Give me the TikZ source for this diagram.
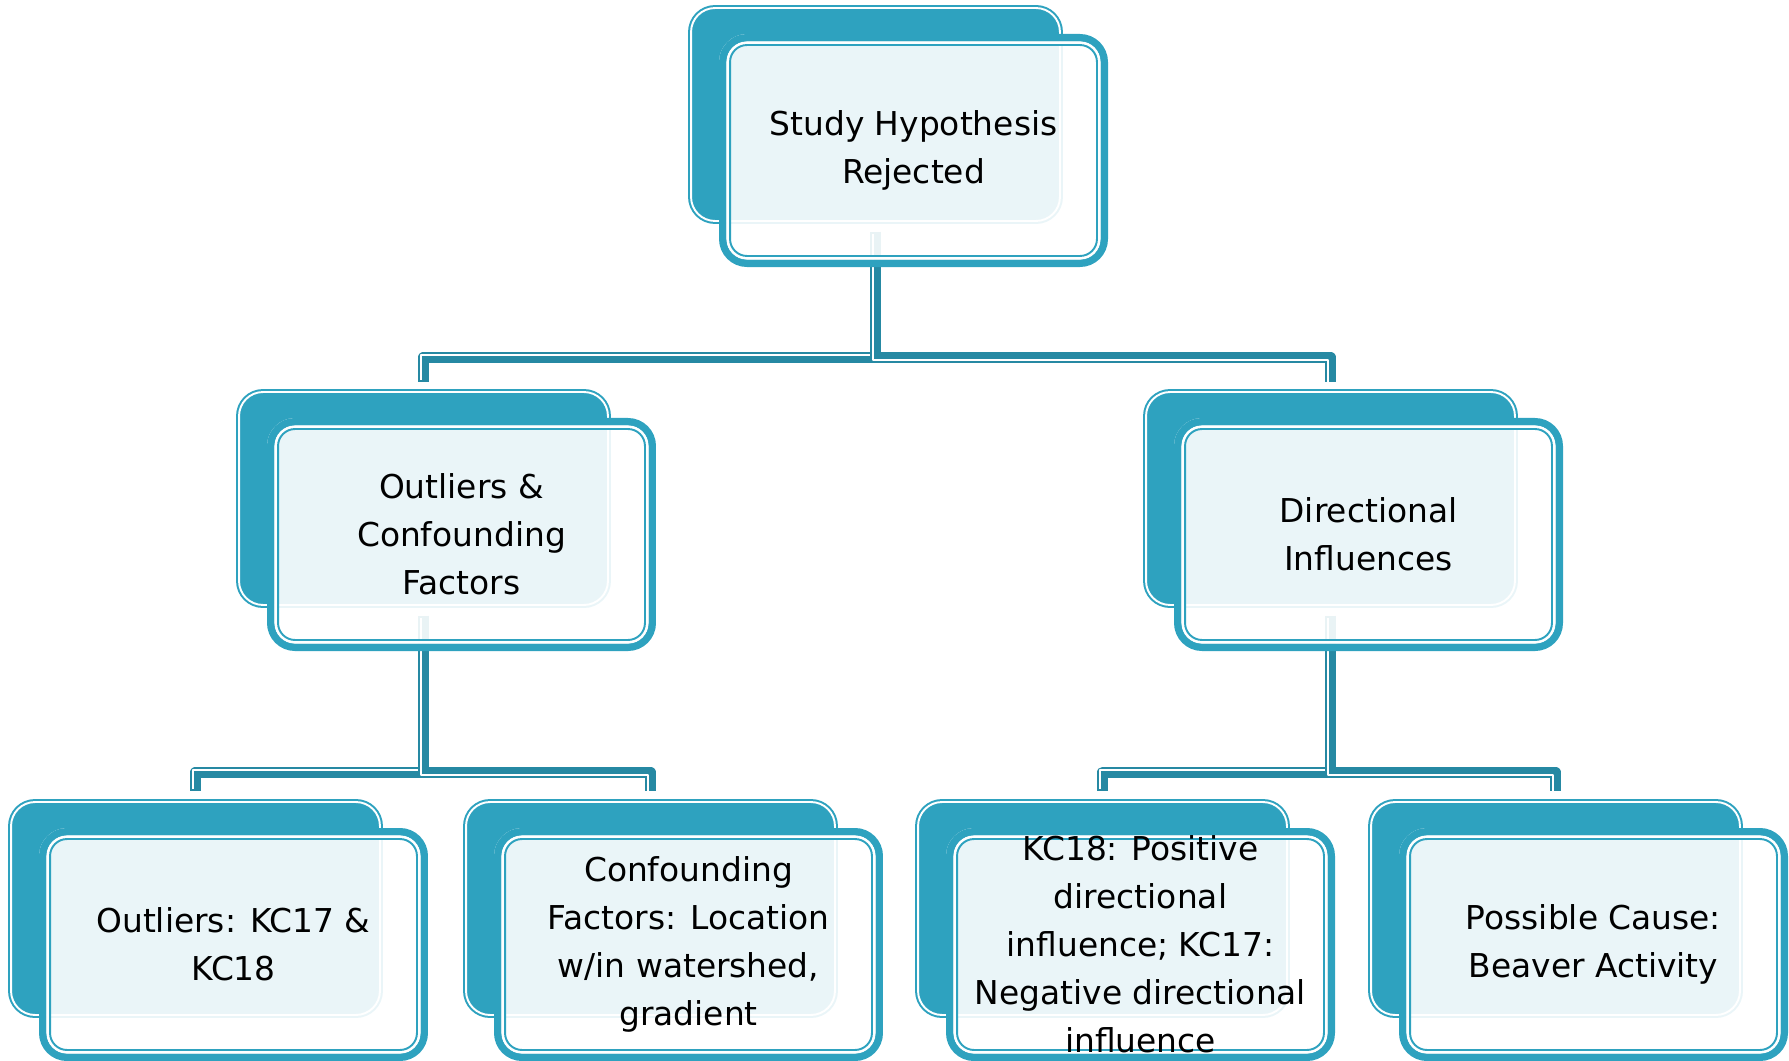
\documentclass[tikz,border=0pt]{standalone}
\usepackage{fontspec}
\setmainfont{DejaVu Sans}
\usetikzlibrary{backgrounds}
\definecolor{boxteal}{RGB}{46,162,191}
\definecolor{conncol}{RGB}{38,137,163}
\tikzset{
 backbox/.style={rectangle, rounded corners=0.54cm, fill=boxteal, minimum width=7.5cm, minimum height=4.38cm, inner sep=0pt, outer sep=0pt},
 frontbox/.style={rectangle, rounded corners=0.56cm, fill=white, fill opacity=0.9, minimum width=7.78cm, minimum height=4.66cm, inner sep=0pt, outer sep=0pt},
 boxtext/.style={align=center, font=\fontsize{18.7}{27.3}\selectfont, inner sep=0pt, text=black},
 backline/.style={draw=white, line width=1.1pt, rounded corners=0.48cm},
 frontthick/.style={draw=boxteal, line width=4.3pt, rounded corners=0.485cm},
 frontwhite/.style={draw=white, line width=1.5pt, rounded corners=0.385cm},
 frontthin/.style={draw=boxteal, line width=1.1pt, rounded corners=0.34cm},
 connbase/.style={draw=conncol, line width=6.5pt, line join=round},
 connL/.style={connbase, postaction={draw=white, line width=1.3pt, transform canvas={xshift=-0.05cm, yshift=0.05cm}}},
 connR/.style={connbase, postaction={draw=white, line width=1.3pt, transform canvas={xshift=-0.05cm, yshift=-0.05cm}}},
}
\newcommand\twobox[4]{%
  \node[backbox] (#1b) at ({#2+187.5},{#3+109.5}) {};
  \draw[backline] ([xshift=0.06cm,yshift=-0.06cm]#1b.north west) rectangle ([xshift=-0.06cm,yshift=0.06cm]#1b.south east);
  \node[frontbox] (#1f) at ({#2+225.5},{#3+145.5}) {};
  \draw[frontthick] ([xshift=0.075cm,yshift=-0.075cm]#1f.north west) rectangle ([xshift=-0.075cm,yshift=0.075cm]#1f.south east);
  \draw[frontwhite] ([xshift=0.175cm,yshift=-0.175cm]#1f.north west) rectangle ([xshift=-0.175cm,yshift=0.175cm]#1f.south east);
  \draw[frontthin] ([xshift=0.22cm,yshift=-0.22cm]#1f.north west) rectangle ([xshift=-0.22cm,yshift=0.22cm]#1f.south east);
  \node[boxtext] (#1) at (#1f.center) {#4};
}
\begin{document}
\begin{tikzpicture}[x=0.02cm, y=-0.02cm]
\useasboundingbox (0,0) rectangle (1789,1061);
\twobox{top}{688}{5}{Study Hypothesis\\Rejected}
\twobox{midL}{236}{389}{Outliers \&\\Confounding\\Factors}
\twobox{midR}{1143}{389}{Directional\\Influences}
\twobox{botA}{8}{799}{Outliers: KC17 \&\\KC18}
\twobox{botB}{463}{799}{Confounding\\Factors: Location\\w/in watershed,\\gradient}
\twobox{botC}{915}{799}{KC18: Positive\\directional\\influence; KC17:\\Negative directional\\influence}
\twobox{botD}{1368}{799}{Possible Cause:\\Beaver Activity}
\coordinate (bus1) at (0,357.5);
\coordinate (bus2) at (0,772.5);
\begin{pgfonlayer}{background}
 \draw[connL] ([yshift=-0.16cm]topb.south) -- (topb.south |- bus1) -- (midLb.north |- bus1) -- ([yshift=0.14cm]midLb.north);
 \draw[connR] ([yshift=-0.16cm]topb.south) -- (topb.south |- bus1) -- (midRb.north |- bus1) -- ([yshift=0.14cm]midRb.north);
 \draw[connL] ([yshift=-0.16cm]midLb.south) -- (midLb.south |- bus2) -- (botAb.north |- bus2) -- ([yshift=0.16cm]botAb.north);
 \draw[connR] ([yshift=-0.16cm]midLb.south) -- (midLb.south |- bus2) -- (botBb.north |- bus2) -- ([yshift=0.16cm]botBb.north);
 \draw[connL] ([yshift=-0.16cm]midRb.south) -- (midRb.south |- bus2) -- (botCb.north |- bus2) -- ([yshift=0.16cm]botCb.north);
 \draw[connR] ([yshift=-0.16cm]midRb.south) -- (midRb.south |- bus2) -- (botDb.north |- bus2) -- ([yshift=0.16cm]botDb.north);
\end{pgfonlayer}
\end{tikzpicture}
\end{document}
